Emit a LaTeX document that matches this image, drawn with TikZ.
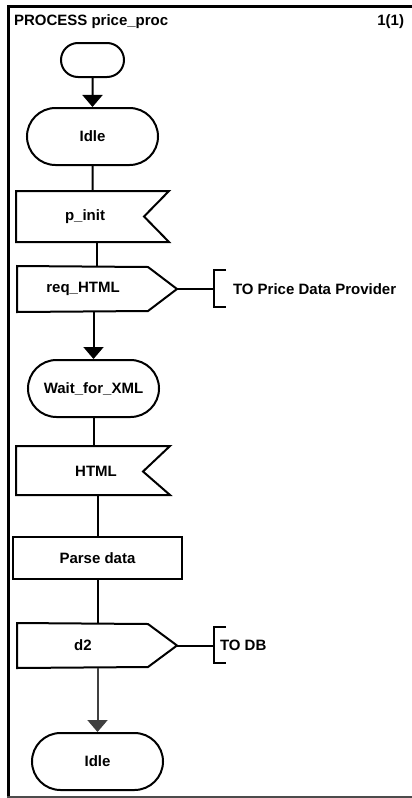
\documentclass[tikz,border=0pt]{standalone}
\usepackage{fontspec}
\setmainfont{Liberation Sans}
\usetikzlibrary{shapes.misc,arrows.meta}
\begin{document}
\begin{tikzpicture}[x=1pt,y=-1pt,line width=2pt,
  every node/.style={font=\fontsize{15}{18}\selectfont\bfseries,inner sep=0pt},
  state/.style={draw,rounded rectangle,minimum width=131pt,minimum height=57pt},
  frame/.style={minimum width=#1},
  arrow/.style={-{Triangle[width=20pt,length=12pt]}},
  grayarrow/.style={arrow,draw=black!75,fill=black!75},
  bracket/.style={line width=2pt}]
\useasboundingbox (0,0) rectangle (412,798);
% frame
\draw[line width=3pt] (8.5,5) -- (8.5,798);
\draw[line width=3pt] (7,6.5) -- (412,6.5);
\draw[line width=1.5pt,draw=black!70] (7,797) -- (412,797);
\node[anchor=base west] (title) at (13,25) {PROCESS price\_proc};
\node[anchor=base east] (page) at (405,25) {1(1)};
% start
\node[draw,rounded rectangle,minimum width=63pt,minimum height=34pt] (start) at (92.5,60) {};
\node[state] (idle1) at (92.5,136.5) {Idle};
% p_init input
\node[minimum width=151pt,minimum height=49pt] (pinit) at (92.5,216.5) {};
\draw (pinit.north west) -- (pinit.north east) -- (144,216.5) -- (pinit.south east) -- (pinit.south west) -- cycle;
\node (pinittxt) at (85,216.5) {p\_init};
% req_HTML output
\node[minimum width=158pt,minimum height=44pt] (req) at (97,289) {};
\draw (req.north west) -- (148,267) -- (req.east) -- (148,311) -- (req.south west) -- cycle;
\node (reqtxt) at (83,289) {req\_HTML};
\coordinate (b1) at (214,289);
\draw[bracket] (226,270) -- (214,270) -- (214,307) -- (226,307);
\node[anchor=west] (to1) at (232,289) {TO Price Data Provider};
% wait
\node[state] (wait) at (93.5,388.5) {Wait\_for\_XML};
% HTML input
\node[minimum width=152pt,minimum height=47pt] (html) at (93,470.5) {};
\draw (html.north west) -- (html.north east) -- (143,471.5) -- (html.south east) -- (html.south west) -- cycle;
\node (htmltxt) at (96,471.5) {HTML};
% parse
\node[draw,minimum width=169pt,minimum height=42pt] (parse) at (97.5,558) {Parse data};
% d2 output
\node[minimum width=158pt,minimum height=43pt] (d2) at (97,645.5) {};
\draw (d2.north west) -- (148,624) -- (d2.east) -- (148,667) -- (d2.south west) -- cycle;
\node (d2txt) at (83,645.5) {d2};
\coordinate (b2) at (214,645.5);
\draw[bracket] (226,627) -- (214,627) -- (214,663) -- (226,663);
\node[anchor=west] (to2) at (219,645) {TO DB};
% idle 2
\node[state] (idle2) at (97.5,761.5) {Idle};
% connectors
\draw[arrow] (start) -- (idle1);
\draw (idle1) -- (pinit);
\draw (req.north |- pinit.south) -- (req.north);
\draw (req.east) -- (b1);
\draw[arrow] (wait.north |- req.south) -- (wait.north);
\draw (wait.south) -- (wait.south |- html.north);
\draw (parse.north |- html.south) -- (parse.north);
\draw (parse.south) -- (parse.south |- d2.north);
\draw (d2.east) -- (b2);
\draw[grayarrow] (idle2.north |- d2.south) -- (idle2.north);
\end{tikzpicture}
\end{document}
